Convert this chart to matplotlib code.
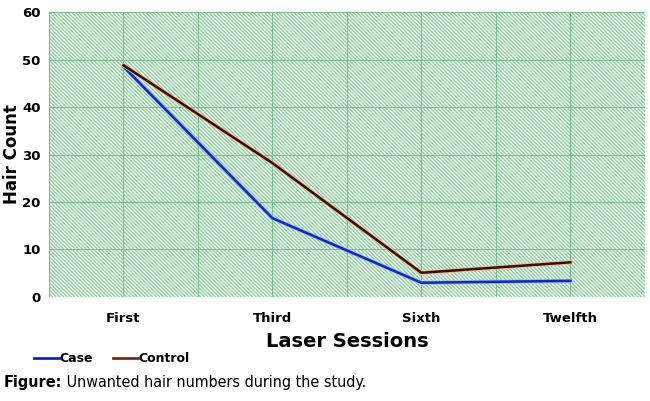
import matplotlib
matplotlib.use("Agg")
import matplotlib.pyplot as plt
import matplotlib.patheffects as pe
from matplotlib.patches import Rectangle

# data
sessions = ["First", "Third", "Sixth", "Twelfth"]
case = [48.5, 16.6, 3.0, 3.4]
control = [48.8, 28.2, 5.1, 7.3]
y_ticks = [0, 10, 20, 30, 40, 50, 60]

plt.rcParams["hatch.linewidth"] = 0.9
plt.rcParams["hatch.color"] = "#8ccc9c"

fig = plt.figure(figsize=(6.5, 4.01), dpi=100)
ax = fig.add_axes([0.0754, 0.2594, 0.9166, 0.7106])

# striped green background
bg = Rectangle((0, 0), 1, 1, transform=ax.transAxes, facecolor="#f2f9f3",
               edgecolor="#8ccc9c", hatch="\\" * 9, linewidth=0, zorder=0)
ax.add_patch(bg)

x = range(len(sessions))
ax.plot(x, case, color="#0a2cbc", linewidth=1.8, zorder=3,
        path_effects=[pe.Stroke(linewidth=3.0, foreground="#9fb4f0"), pe.Normal()],
        label="Case")
ax.plot(x, control, color="#3a0c02", linewidth=1.8, zorder=4,
        path_effects=[pe.Stroke(linewidth=3.0, foreground="#e9b38f"), pe.Normal()],
        label="Control")

ax.set_xlim(-0.5, len(sessions) - 0.5)
ax.set_ylim(0, 60)
ax.set_xticks(list(x))
ax.set_xticklabels(sessions)
ax.set_xticks([i - 0.5 for i in range(len(sessions) + 1)], minor=True)
ax.set_yticks(y_ticks)

ax.grid(True, which="both", color="#78bf8c", linewidth=0.7, zorder=1)

for s in ax.spines.values():
    s.set_visible(False)
ax.tick_params(which="both", length=0)
ax.tick_params(axis="x", pad=11)
ax.tick_params(axis="y", pad=6)
for lab in ax.get_xticklabels() + ax.get_yticklabels():
    lab.set_fontsize(9.5)
    lab.set_fontweight("bold")

ax.set_xlabel("Laser Sessions", fontsize=14, fontweight="bold", labelpad=5)
ax.set_ylabel("Hair Count", fontsize=12, fontweight="bold")
ax.yaxis.set_label_coords(-0.047, 0.5)

leg = fig.legend(loc="lower left", bbox_to_anchor=(0.035, 0.062), ncol=2,
                 frameon=False, handlelength=2.0, handletextpad=0.05,
                 columnspacing=1.6, prop={"weight": "bold", "size": 9})
for h in leg.legend_handles:
    h.set_path_effects([])
    h.set_linewidth(2.0)
leg.legend_handles[1].set_color("#7a2a10")

cap_font = ["DejaVu Sans", "Liberation Sans"]
cap = fig.text(0.006, 0.035, "Figure:", fontsize=11.5, fontweight="bold",
               family=cap_font, fontstretch="condensed", va="baseline")
fig.add_artist(plt.Annotation(" Unwanted hair numbers during the study.",
                              xy=(1, 0), xycoords=cap, va="bottom",
                              fontsize=11.5, family=cap_font,
                              fontstretch="condensed"))

fig.savefig("out.png", dpi=100)
